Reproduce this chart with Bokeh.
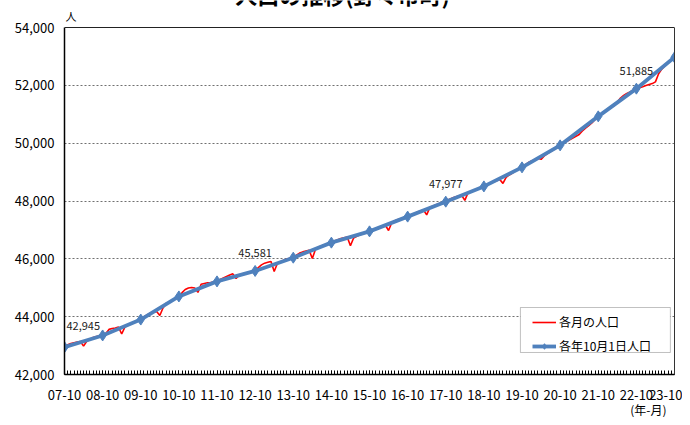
from bokeh.plotting import figure
from bokeh.models import (Range1d, FixedTicker, Legend, LegendItem, Label, Title, Span,
                          LinearAxis, BoxAnnotation, NumeralTickFormatter)
from bokeh.embed import file_html
from bokeh.resources import INLINE

# ---------------- data ----------------
year_labels = ["07-10", "08-10", "09-10", "10-10", "11-10", "12-10", "13-10", "14-10",
               "15-10", "16-10", "17-10", "18-10", "19-10", "20-10", "21-10", "22-10", "23-10"]
oct1_population = [42945, 43350, 43900, 44700, 45220, 45581, 46040, 46560, 46950,
                   47460, 47977, 48505, 49163, 49924, 50927, 51885, 52969]

# monthly population, 2007-10 ... 2023-10 (one row per year, Oct..Sep)
monthly_population = [
    42945, 43030, 43070, 43100, 43120, 43140, 42980, 43150, 43220, 43280, 43310, 43330,
    43350, 43420, 43560, 43590, 43610, 43640, 43400, 43640, 43700, 43760, 43810, 43860,
    43900, 43990, 44060, 44120, 44150, 44180, 44040, 44300, 44460, 44500, 44560, 44640,
    44700, 44830, 44940, 44990, 45010, 44990, 44840, 45120, 45150, 45170, 45180, 45200,
    45220, 45290, 45340, 45390, 45440, 45480, 45320, 45440, 45470, 45500, 45530, 45560,
    45581, 45700, 45790, 45850, 45880, 45910, 45560, 45840, 45900, 45950, 45990, 46020,
    46040, 46130, 46200, 46240, 46270, 46300, 46010, 46330, 46400, 46450, 46490, 46520,
    46560, 46620, 46660, 46700, 46730, 46750, 46450, 46720, 46780, 46830, 46870, 46910,
    46950, 47000, 47050, 47090, 47120, 47160, 46980, 47250, 47320, 47360, 47390, 47430,
    47460, 47510, 47560, 47610, 47650, 47690, 47520, 47780, 47830, 47870, 47910, 47950,
    47977, 48050, 48100, 48140, 48170, 48200, 48020, 48280, 48330, 48380, 48420, 48470,
    48505, 48570, 48620, 48660, 48700, 48740, 48610, 48820, 48900, 48970, 49040, 49100,
    49163, 49250, 49330, 49380, 49420, 49480, 49440, 49560, 49640, 49710, 49780, 49850,
    49924, 49990, 50060, 50120, 50180, 50240, 50300, 50420, 50520, 50610, 50700, 50820,
    50927, 51010, 51090, 51160, 51230, 51300, 51420, 51560, 51650, 51720, 51770, 51830,
    51885, 51920, 51950, 51990, 52030, 52060, 52120, 52400, 52560, 52680, 52780, 52880,
    52969,
]
annotated_years = [0, 5, 10, 15]

title_text = "人口の推移(野々市町)"
series_names = ["各月の人口", "各年10月1日人口"]
y_unit = "人"
x_unit = "(年-月)"
y_ticks = [42000, 44000, 46000, 48000, 50000, 52000, 54000]
y_min, y_max = 42000, 54000

# ---------------- layout constants ----------------
FONT = "Noto Sans CJK JP"
PLOT_H_PX = 347          # height of the 42,000..54,000 band
TOP_PAD_PX = 27          # space above 54,000 (kept inside the frame)
y_top = y_max + TOP_PAD_PX * (y_max - y_min) / PLOT_H_PX

n_months = len(monthly_population) - 1
month_x = list(range(len(monthly_population)))
year_x = [i * 12 for i in range(len(oct1_population))]

p = figure(width=682, height=417, output_backend="svg", toolbar_location=None, title=None,
           x_range=Range1d(0, n_months), y_range=Range1d(y_min, y_top),
           min_border_left=64, min_border_right=8, min_border_top=0, min_border_bottom=43)
p.background_fill_color = "white"
p.border_fill_color = "white"
p.outline_line_color = None

# x axis
p.xaxis.ticker = FixedTicker(ticks=year_x, minor_ticks=month_x)
p.xaxis.major_label_overrides = {x: lab for x, lab in zip(year_x, year_labels)}
p.xaxis.axis_line_color = "black"
p.xaxis.axis_line_width = 1.5
p.xaxis.major_tick_in = 4
p.xaxis.major_tick_out = 0
p.xaxis.minor_tick_in = 4
p.xaxis.minor_tick_out = 0
p.xaxis.major_tick_line_color = "black"
p.xaxis.minor_tick_line_color = "black"
p.xaxis.major_label_text_font = FONT
p.xaxis.major_label_text_font_size = "13px"
p.xaxis.major_label_text_color = "black"
p.xaxis.major_label_standoff = 15

# y axis (line only over the 42,000..54,000 band)
p.yaxis.ticker = FixedTicker(ticks=y_ticks)
p.yaxis.bounds = (y_min, y_max)
p.yaxis.formatter = NumeralTickFormatter(format="0,0")
p.yaxis.axis_line_color = "black"
p.yaxis.axis_line_width = 1.5
p.yaxis.major_tick_in = 0
p.yaxis.major_tick_out = 0
p.yaxis.minor_tick_line_color = None
p.yaxis.major_label_text_font = FONT
p.yaxis.major_label_text_font_size = "13px"
p.yaxis.major_label_text_color = "black"
p.yaxis.major_label_standoff = 10

# right border (axis line only)
p.add_layout(LinearAxis(bounds=(y_min, y_max), ticker=FixedTicker(ticks=[]),
                        axis_line_color="#333333", axis_line_width=1,
                        major_tick_in=0, major_tick_out=0, minor_tick_in=0, minor_tick_out=0,
                        major_label_text_font_size="0px", major_label_standoff=0), "right")
# top border
p.add_layout(Span(location=y_max, dimension="width", line_color="#222222", line_width=1))

p.xgrid.visible = False
p.ygrid.ticker = FixedTicker(ticks=y_ticks[:-1])
p.ygrid.grid_line_color = "#707070"
p.ygrid.grid_line_dash = "2 2"
p.ygrid.grid_line_width = 1

# series
r_month = p.line(month_x, monthly_population, line_color="#ff0000", line_width=1.6)
r_year_line = p.line(year_x, oct1_population, line_color="#4f81bd", line_width=3.8)
r_year_pts = p.scatter(year_x, oct1_population, marker="diamond", size=11,
                       fill_color="#4f81bd", line_color="#4f81bd")

# data labels
for i in annotated_years:
    first = (i == 0)
    p.add_layout(Label(x=year_x[i], y=oct1_population[i], text=f"{oct1_population[i]:,}",
                       text_align="left" if first else "center", text_baseline="middle",
                       x_offset=2 if first else 0, y_offset=21 if first else 18,
                       text_font=FONT, text_font_size="11px", text_color="#222222",
                       level="overlay"))

# legend frame + legend
p.add_layout(BoxAnnotation(left=143.5, right=190.7, top=44317, bottom=42761,
                           fill_color="white", fill_alpha=1.0,
                           line_color="#333333", line_width=1, level="overlay"))
legend = Legend(items=[LegendItem(label=series_names[0], renderers=[r_month]),
                       LegendItem(label=series_names[1], renderers=[r_year_line, r_year_pts])],
                location=(468, 20), orientation="vertical",
                background_fill_alpha=0, border_line_color=None,
                padding=5, spacing=7, glyph_width=24, glyph_height=14,
                label_height=14, label_standoff=3,
                label_text_font=FONT, label_text_font_size="12px",
                label_text_color="black", margin=0)
p.add_layout(legend, "center")

# title (cut at the top edge, as in the original) and unit label
p.add_layout(Label(x=278, y=381, x_units="screen", y_units="screen", text=title_text,
                   text_align="center", text_baseline="middle", text_font=FONT,
                   text_font_size="22px", text_font_style="bold", text_color="black",
                   level="overlay"))
p.add_layout(Label(x=1, y=359, x_units="screen", y_units="screen", text=y_unit,
                   text_align="left", text_baseline="middle", text_font=FONT,
                   text_font_size="11px", text_color="black", level="overlay"))

# x unit below the axis, right-aligned
p.add_layout(Title(text=x_unit, align="right", offset=8, standoff=-7,
                   text_font=FONT, text_font_size="12px", text_font_style="normal",
                   text_color="black"), "below")

open("out.html", "w").write(file_html(p, INLINE))
